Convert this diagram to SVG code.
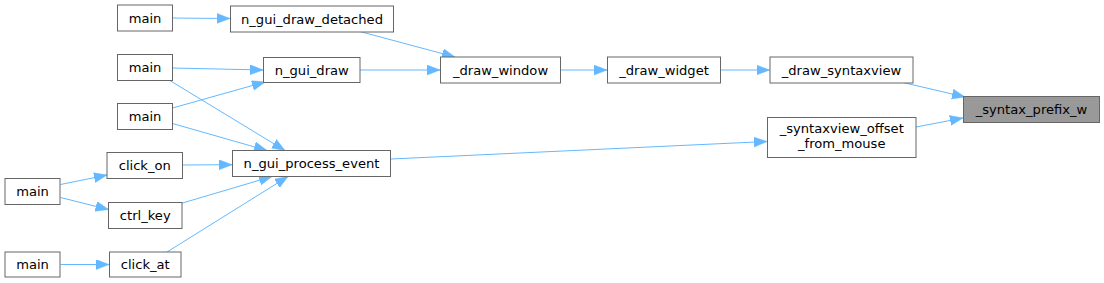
<svg xmlns="http://www.w3.org/2000/svg" width="1104" height="283" viewBox="0 0 1104 283">
<defs>
<style>
.node rect{fill:#fff;stroke:#666;stroke-width:1}
.node.hl rect{fill:#999}
.node text{font-family:"DejaVu Sans",sans-serif;font-size:13.1px;fill:#000;text-anchor:middle}
.edges line{stroke:#63b8ff;stroke-width:1;fill:none;marker-end:url(#ah)}
</style>
<marker id="ah" markerUnits="userSpaceOnUse" markerWidth="14" markerHeight="11" refX="13" refY="5" orient="auto" viewBox="0 0 14 11">
<path d="M0,0 L13,5 L0,10 z" fill="#63b8ff" stroke="#63b8ff" stroke-width="0.5"/>
</marker>
</defs>
<rect width="1104" height="283" fill="#fff"/>
<g class="edges">
<line x1="172.5" y1="18" x2="230" y2="18.5"/>
<line x1="360" y1="31.5" x2="455" y2="57"/>
<line x1="172.5" y1="68" x2="263" y2="70"/>
<line x1="172.5" y1="108" x2="265" y2="82"/>
<line x1="169" y1="80" x2="285" y2="150.5"/>
<line x1="172.5" y1="123.5" x2="267" y2="150.5"/>
<line x1="360" y1="70" x2="440" y2="70"/>
<line x1="560.5" y1="70" x2="607" y2="70"/>
<line x1="720.5" y1="70" x2="769.5" y2="70"/>
<line x1="903" y1="82.5" x2="965" y2="97"/>
<line x1="916" y1="127" x2="963" y2="118"/>
<line x1="391" y1="159" x2="767" y2="141.5"/>
<line x1="182.5" y1="165" x2="232" y2="164.7"/>
<line x1="60.5" y1="184.5" x2="107" y2="175"/>
<line x1="60.5" y1="197.5" x2="108.5" y2="209.5"/>
<line x1="182.5" y1="203" x2="272" y2="176.5"/>
<line x1="167" y1="252" x2="288" y2="176.5"/>
<line x1="60.5" y1="264.5" x2="109" y2="264.5"/>
</g>
<g id="node_main1" class="node"><rect x="117.5" y="5" width="55" height="26"/><text x="145" y="22.5">main</text></g>
<g id="node_detached" class="node"><rect x="230.5" y="6" width="163" height="26"/><text x="312" y="23.5">n_gui_draw_detached</text></g>
<g id="node_main2" class="node"><rect x="117.5" y="54.5" width="55" height="26"/><text x="145" y="72">main</text></g>
<g id="node_n_gui_draw" class="node"><rect x="263.5" y="57.5" width="96.5" height="25"/><text x="311.75" y="74.5">n_gui_draw</text></g>
<g id="node_main3" class="node"><rect x="117.5" y="103.5" width="55" height="26"/><text x="145" y="121">main</text></g>
<g id="node_click_on" class="node"><rect x="107" y="152.5" width="75.5" height="26"/><text x="144.75" y="170">click_on</text></g>
<g id="node_process_event" class="node"><rect x="232.5" y="150.5" width="158" height="26"/><text x="311.5" y="168">n_gui_process_event</text></g>
<g id="node_main4" class="node"><rect x="5" y="178.5" width="55" height="26"/><text x="32.5" y="196">main</text></g>
<g id="node_ctrl_key" class="node"><rect x="108.5" y="202.5" width="73.5" height="26"/><text x="145.25" y="220">ctrl_key</text></g>
<g id="node_main5" class="node"><rect x="5" y="252" width="55" height="25"/><text x="32.5" y="269">main</text></g>
<g id="node_click_at" class="node"><rect x="109.5" y="252" width="71.5" height="25"/><text x="145.25" y="269">click_at</text></g>
<g id="node_draw_window" class="node"><rect x="440.5" y="57" width="120" height="26"/><text x="500.5" y="74.5">_draw_window</text></g>
<g id="node_draw_widget" class="node"><rect x="607.5" y="57" width="113" height="26"/><text x="664" y="74.5">_draw_widget</text></g>
<g id="node_draw_syntaxview" class="node"><rect x="770" y="57" width="143" height="26"/><text x="841.5" y="74.5">_draw_syntaxview</text></g>
<g id="node_syntax_prefix_w" class="node hl"><rect x="963.5" y="96.5" width="136" height="26"/><text x="1031.5" y="114">_syntax_prefix_w</text></g>
<g id="node_offset_from_mouse" class="node"><rect x="767.5" y="117.5" width="148.5" height="40"/><text x="841.75" y="133">_syntaxview_offset</text><text x="841.75" y="148">_from_mouse</text></g>
</svg>
